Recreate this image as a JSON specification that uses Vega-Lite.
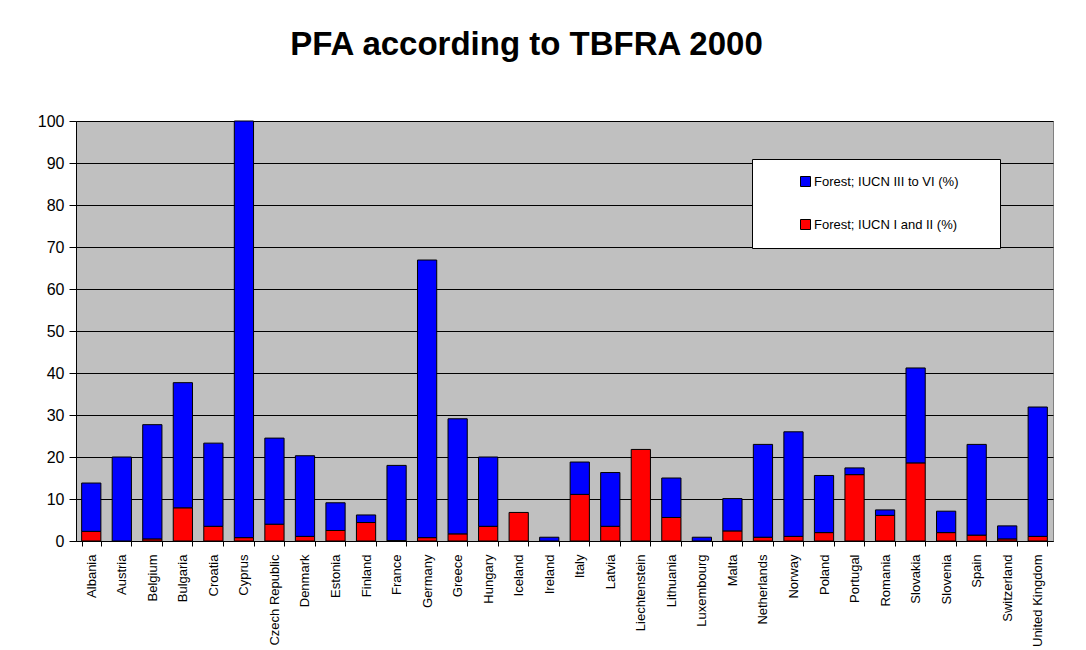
{
  "$schema": "https://vega.github.io/schema/vega-lite/v6.json",
  "autosize": "none",
  "width": 977,
  "height": 420,
  "padding": {"left": 76, "top": 121, "right": 33, "bottom": 109},
  "background": "white",
  "title": {
    "text": "PFA according to TBFRA 2000",
    "font": "Liberation Sans",
    "fontSize": 33,
    "fontWeight": "bold",
    "color": "black",
    "anchor": "middle",
    "baseline": "alphabetic",
    "dx": -38,
    "offset": 25
  },
  "data": {
    "values": [
      {"country": "Albania", "series": "Forest; IUCN I and II (%)", "value": 2.3},
      {"country": "Albania", "series": "Forest; IUCN III to VI (%)", "value": 11.5},
      {"country": "Austria", "series": "Forest; IUCN III to VI (%)", "value": 20.0},
      {"country": "Belgium", "series": "Forest; IUCN I and II (%)", "value": 0.5},
      {"country": "Belgium", "series": "Forest; IUCN III to VI (%)", "value": 27.2},
      {"country": "Bulgaria", "series": "Forest; IUCN I and II (%)", "value": 7.9},
      {"country": "Bulgaria", "series": "Forest; IUCN III to VI (%)", "value": 29.8},
      {"country": "Croatia", "series": "Forest; IUCN I and II (%)", "value": 3.5},
      {"country": "Croatia", "series": "Forest; IUCN III to VI (%)", "value": 19.8},
      {"country": "Cyprus", "series": "Forest; IUCN I and II (%)", "value": 0.8},
      {"country": "Cyprus", "series": "Forest; IUCN III to VI (%)", "value": 99.2},
      {"country": "Czech Republic", "series": "Forest; IUCN I and II (%)", "value": 4.0},
      {"country": "Czech Republic", "series": "Forest; IUCN III to VI (%)", "value": 20.5},
      {"country": "Denmark", "series": "Forest; IUCN I and II (%)", "value": 1.1},
      {"country": "Denmark", "series": "Forest; IUCN III to VI (%)", "value": 19.2},
      {"country": "Estonia", "series": "Forest; IUCN I and II (%)", "value": 2.5},
      {"country": "Estonia", "series": "Forest; IUCN III to VI (%)", "value": 6.6},
      {"country": "Finland", "series": "Forest; IUCN I and II (%)", "value": 4.4},
      {"country": "Finland", "series": "Forest; IUCN III to VI (%)", "value": 1.8},
      {"country": "France", "series": "Forest; IUCN I and II (%)", "value": 0.1},
      {"country": "France", "series": "Forest; IUCN III to VI (%)", "value": 17.9},
      {"country": "Germany", "series": "Forest; IUCN I and II (%)", "value": 0.8},
      {"country": "Germany", "series": "Forest; IUCN III to VI (%)", "value": 66.1},
      {"country": "Greece", "series": "Forest; IUCN I and II (%)", "value": 1.7},
      {"country": "Greece", "series": "Forest; IUCN III to VI (%)", "value": 27.4},
      {"country": "Hungary", "series": "Forest; IUCN I and II (%)", "value": 3.5},
      {"country": "Hungary", "series": "Forest; IUCN III to VI (%)", "value": 16.5},
      {"country": "Iceland", "series": "Forest; IUCN I and II (%)", "value": 6.8},
      {"country": "Ireland", "series": "Forest; IUCN III to VI (%)", "value": 0.9},
      {"country": "Italy", "series": "Forest; IUCN I and II (%)", "value": 11.1},
      {"country": "Italy", "series": "Forest; IUCN III to VI (%)", "value": 7.7},
      {"country": "Latvia", "series": "Forest; IUCN I and II (%)", "value": 3.5},
      {"country": "Latvia", "series": "Forest; IUCN III to VI (%)", "value": 12.8},
      {"country": "Liechtenstein", "series": "Forest; IUCN I and II (%)", "value": 21.8},
      {"country": "Lithuania", "series": "Forest; IUCN I and II (%)", "value": 5.6},
      {"country": "Lithuania", "series": "Forest; IUCN III to VI (%)", "value": 9.4},
      {"country": "Luxembourg", "series": "Forest; IUCN III to VI (%)", "value": 0.9},
      {"country": "Malta", "series": "Forest; IUCN I and II (%)", "value": 2.4},
      {"country": "Malta", "series": "Forest; IUCN III to VI (%)", "value": 7.7},
      {"country": "Netherlands", "series": "Forest; IUCN I and II (%)", "value": 0.9},
      {"country": "Netherlands", "series": "Forest; IUCN III to VI (%)", "value": 22.1},
      {"country": "Norway", "series": "Forest; IUCN I and II (%)", "value": 1.1},
      {"country": "Norway", "series": "Forest; IUCN III to VI (%)", "value": 24.9},
      {"country": "Poland", "series": "Forest; IUCN I and II (%)", "value": 2.0},
      {"country": "Poland", "series": "Forest; IUCN III to VI (%)", "value": 13.6},
      {"country": "Portugal", "series": "Forest; IUCN I and II (%)", "value": 15.8},
      {"country": "Portugal", "series": "Forest; IUCN III to VI (%)", "value": 1.6},
      {"country": "Romania", "series": "Forest; IUCN I and II (%)", "value": 6.1},
      {"country": "Romania", "series": "Forest; IUCN III to VI (%)", "value": 1.3},
      {"country": "Slovakia", "series": "Forest; IUCN I and II (%)", "value": 18.6},
      {"country": "Slovakia", "series": "Forest; IUCN III to VI (%)", "value": 22.6},
      {"country": "Slovenia", "series": "Forest; IUCN I and II (%)", "value": 2.0},
      {"country": "Slovenia", "series": "Forest; IUCN III to VI (%)", "value": 5.1},
      {"country": "Spain", "series": "Forest; IUCN I and II (%)", "value": 1.4},
      {"country": "Spain", "series": "Forest; IUCN III to VI (%)", "value": 21.6},
      {"country": "Switzerland", "series": "Forest; IUCN I and II (%)", "value": 0.5},
      {"country": "Switzerland", "series": "Forest; IUCN III to VI (%)", "value": 3.1},
      {"country": "United Kingdom", "series": "Forest; IUCN I and II (%)", "value": 1.1},
      {"country": "United Kingdom", "series": "Forest; IUCN III to VI (%)", "value": 30.8}
    ]
  },
  "mark": {"type": "bar", "stroke": "black", "strokeWidth": 1},
  "encoding": {
    "x": {
      "field": "country",
      "type": "nominal",
      "sort": null,
      "scale": {"paddingInner": 0.37, "paddingOuter": 0.185},
      "axis": {
        "title": null,
        "labelAngle": -90,
        "labelFont": "Liberation Sans",
        "labelFontSize": 13,
        "labelColor": "black",
        "labelPadding": 8,
        "tickBand": "extent",
        "tickSize": 5,
        "tickColor": "black",
        "domainColor": "black",
        "grid": false
      }
    },
    "y": {
      "field": "value",
      "type": "quantitative",
      "stack": "zero",
      "scale": {"domain": [0, 100], "nice": false},
      "axis": {
        "title": null,
        "values": [0, 10, 20, 30, 40, 50, 60, 70, 80, 90, 100],
        "labelFont": "Liberation Sans",
        "labelFontSize": 16,
        "labelColor": "black",
        "labelPadding": 5,
        "tickSize": 7,
        "tickColor": "black",
        "domainColor": "black",
        "grid": true,
        "gridColor": "black",
        "gridOpacity": 1,
        "gridWidth": 1
      }
    },
    "color": {
      "field": "series",
      "type": "nominal",
      "scale": {
        "domain": ["Forest; IUCN III to VI (%)", "Forest; IUCN I and II (%)"],
        "range": ["#0000FF", "#FF0000"]
      },
      "legend": {
        "title": null,
        "orient": "none",
        "legendX": 676,
        "legendY": 38,
        "fillColor": "white",
        "strokeColor": "black",
        "padding": 16,
        "symbolType": "square",
        "symbolSize": 100,
        "symbolStrokeColor": "black",
        "symbolStrokeWidth": 1,
        "symbolOffset": 31,
        "labelFont": "Liberation Sans",
        "labelFontSize": 13,
        "labelColor": "black",
        "labelOffset": 2,
        "labelLimit": 400,
        "labelExpr": "datum.label + '\u00a0\u00a0\u00a0\u00a0\u00a0\u00a0\u00a0\u200b'",
        "rowPadding": 28
      }
    },
    "order": {"field": "series", "sort": "ascending"}
  },
  "config": {
    "view": {"fill": "#C0C0C0", "stroke": "#808080", "strokeWidth": 1},
    "axis": {"domainWidth": 1, "tickWidth": 1}
  }
}
